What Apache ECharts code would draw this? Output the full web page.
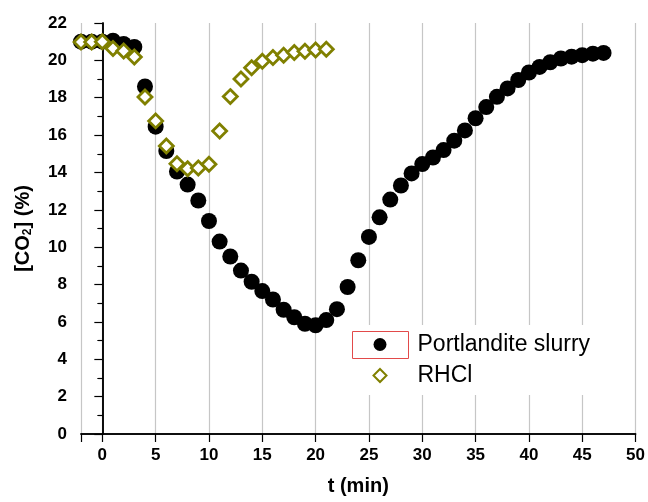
<!DOCTYPE html>
<html>
<head>
<meta charset="utf-8">
<script src="https://cdn.jsdelivr.net/npm/echarts@6/dist/echarts.min.js"></script>
<style>
  html, body { margin: 0; padding: 0; background: #fff; }
  #chart { width: 648px; height: 502px; }
</style>
</head>
<body>
<div id="chart"></div>
<script>
// time (min) and CO2 (%)
const slurryTime = [-2, -1, 0, 1, 2, 3, 4, 5, 6, 7, 8, 9, 10, 11, 12, 13, 14, 15, 16, 17, 18, 19, 20, 21, 22, 23, 24,
  25, 26, 27, 28, 29, 30, 31, 32, 33, 34, 35, 36, 37, 38, 39, 40, 41, 42, 43, 44, 45, 46, 47];
const slurryCO2 = [21.0, 21.0, 21.0, 21.05, 20.88, 20.72, 18.6, 16.45, 15.15, 14.05, 13.35, 12.5, 11.4, 10.3, 9.5,
  8.75, 8.15, 7.65, 7.2, 6.65, 6.25, 5.9, 5.82, 6.1, 6.68, 7.87, 9.3, 10.55, 11.6, 12.55, 13.3, 13.95, 14.45, 14.8,
  15.2, 15.7, 16.25, 16.9, 17.5, 18.05, 18.5, 18.95, 19.35, 19.65, 19.9, 20.1, 20.2, 20.28, 20.36, 20.4];

const rhclTime = [-2, -1, 0, 1, 2, 3, 4, 5, 6, 7, 8, 9, 10, 11, 12, 13, 14, 15, 16, 17, 18, 19, 20, 21];
const rhclCO2 = [20.98, 20.98, 21.0, 20.63, 20.5, 20.18, 18.04, 16.76, 15.42, 14.47, 14.2, 14.24, 14.44, 16.22,
  18.06, 19.0, 19.6, 19.95, 20.15, 20.27, 20.42, 20.49, 20.56, 20.6];

const seriesNames = ["Portlandite slurry", "RHCl"];
const yTicks = [0, 22, 2]; // min, max, step
const xRange = [-2, 50];

const chart = echarts.init(document.getElementById("chart"), null, { renderer: "canvas" });

const font = "'Liberation Sans', Arial, sans-serif";
const black = "#000";

chart.setOption({
  backgroundColor: "#fff",
  animation: false,
  textStyle: { fontFamily: font },
  grid: { left: 81, right: 10, top: 23, bottom: 68 },
  legend: {
    orient: "vertical",
    left: 344,
    top: 325,
    // icon kept square and centred in the (red) 56px box
    padding: [6, 30, 6, 28.5],
    backgroundColor: "#fff",
    itemWidth: 13,
    itemHeight: 13,
    itemGap: 4,
    data: seriesNames,
    textStyle: { fontSize: 23, color: black, lineHeight: 27, padding: [0, 0, 0, 26] },
  },
  xAxis: [
    {
      type: "value",
      min: xRange[0],
      max: xRange[1],
      splitNumber: 10,
      name: "t (min)",
      nameLocation: "middle",
      nameGap: 42,
      nameTextStyle: { fontSize: 20, fontWeight: "bold", color: black },
      axisLine: { lineStyle: { color: black, width: 1.5 } },
      axisTick: { length: 8, lineStyle: { color: black, width: 1.2 } },
      axisLabel: {
        fontSize: 17, fontWeight: "bold", color: black, margin: 13,
        formatter: (v) => (v % 5 === 0 ? String(v) : ""),
      },
      splitLine: { show: true, lineStyle: { color: "#c6c6c6", width: 1.2 } },
    },
    {
      type: "value",
      position: "top",
      min: xRange[0],
      max: xRange[1],
      splitNumber: 10,
      axisLine: { lineStyle: { color: black, width: 1.5 } },
      axisTick: { inside: true, length: 4, lineStyle: { color: black } },
      axisLabel: { show: false },
      splitLine: { show: false },
    },
  ],
  yAxis: [
    {
      type: "value",
      min: yTicks[0],
      max: yTicks[1],
      interval: yTicks[2],
      name: "{a|[CO}{s|2}{a|] (%)}",
      nameLocation: "middle",
      nameGap: 47,
      nameTextStyle: {
        rich: {
          a: { fontSize: 20, fontWeight: "bold", color: black, fontFamily: font },
          s: { fontSize: 12, fontWeight: "bold", color: black, fontFamily: font, verticalAlign: "bottom", padding: [10, 0, 0, 0] },
        },
      },
      axisLine: { show: true, lineStyle: { color: black, width: 1.5 } },
      axisTick: { show: true, length: 8, lineStyle: { color: black, width: 1.2 } },
      minorTick: { show: true, splitNumber: 2, length: 4, lineStyle: { color: black, width: 1.2 } },
      axisLabel: { fontSize: 17, fontWeight: "bold", color: black, margin: 14 },
      splitLine: { show: false },
    },
    {
      type: "value",
      position: "right",
      min: yTicks[0],
      max: yTicks[1],
      interval: yTicks[2],
      axisLine: { show: true, lineStyle: { color: black, width: 1.5 } },
      axisTick: { show: true, inside: true, length: 5, lineStyle: { color: black } },
      minorTick: { show: true, splitNumber: 2, length: 5, lineStyle: { color: black } },
      axisLabel: { show: false },
      splitLine: { show: false },
    },
  ],
  series: [
    {
      name: seriesNames[0],
      type: "scatter",
      symbol: "circle",
      symbolSize: 16,
      itemStyle: { color: black, opacity: 1 },
      data: slurryTime.map((t, i) => [t, slurryCO2[i]]),
      z: 2,
    },
    {
      name: seriesNames[1],
      type: "scatter",
      symbol: "diamond",
      symbolSize: 14,
      itemStyle: { color: "#fff", borderColor: "#808000", borderWidth: 2.8, opacity: 1 },
      data: rhclTime.map((t, i) => [t, rhclCO2[i]]),
      z: 3,
    },
  ],
  graphic: [
    {
      type: "rect",
      z: 100,
      shape: { x: 352.5, y: 331.5, width: 56, height: 27 },
      style: { fill: null, stroke: "#e24a4a", lineWidth: 1 },
    },
  ],
});
</script>
</body>
</html>
